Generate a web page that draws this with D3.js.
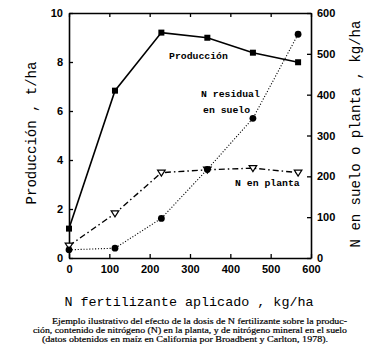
<!DOCTYPE html>
<html><head><meta charset="utf-8">
<script src="https://cdn.jsdelivr.net/npm/d3@7"></script>
<style>body{margin:0;background:#fff}svg{display:block}</style>
</head><body>
<script>
// ---- data ----
const nFert = [0, 114, 229, 343, 456, 568];            // kg/ha N applied
const produccion = [1.2, 6.83, 9.2, 8.99, 8.38, 7.99];  // t/ha (left axis)
const nPlanta = [30, 109, 209, 216, 220, 209];          // kg/ha (right axis)
const nSuelo = [20, 24, 97, 217, 342, 548];             // kg/ha (right axis)
const xTicks = [0, 100, 200, 300, 400, 500, 600];
const yLeftTicks = [0, 2, 4, 6, 8, 10];
const yRightTicks = [0, 100, 200, 300, 400, 500, 600];
const captionLines = [
  "Ejemplo ilustrativo del efecto de la dosis de N fertilizante sobre la produc-",
  "ción, contenido de nitrógeno (N) en la planta, y de nitrógeno mineral en el suelo",
  "(datos obtenidos en maíz en California por Broadbent y Carlton, 1978)."
];

const W = 379, H = 356;
const svg = d3.select("body").append("svg").attr("width", W).attr("height", H);

const x = d3.scaleLinear().domain([0, 600]).range([69, 311]);
const yL = d3.scaleLinear().domain([0, 10]).range([258, 13]);
const yR = d3.scaleLinear().domain([0, 600]).range([258, 13]);

function styleAxis(g) {
  g.select(".domain").attr("stroke", "#000").attr("stroke-width", 1.6);
  g.selectAll(".tick line").attr("stroke", "#000").attr("stroke-width", 1.3);
  g.selectAll("text").attr("font-family", "Liberation Sans, Arial, sans-serif")
    .attr("font-weight", "bold").attr("font-size", 11).attr("fill", "#000");
}

svg.append("g").attr("transform", "translate(0,258)")
  .call(d3.axisBottom(x).tickValues(xTicks).tickSizeInner(-4).tickSizeOuter(0).tickPadding(7).tickFormat(d3.format("d")))
  .call(styleAxis);
svg.append("g").attr("transform", "translate(0,13)")
  .call(d3.axisTop(x).tickValues(xTicks).tickSizeInner(-4).tickSizeOuter(0).tickFormat(""))
  .call(styleAxis);
svg.append("g").attr("transform", "translate(69,0)")
  .call(d3.axisLeft(yL).tickValues(yLeftTicks).tickSizeInner(-4).tickSizeOuter(0).tickPadding(6).tickFormat(d3.format("d")))
  .call(styleAxis);
svg.append("g").attr("transform", "translate(311,0)")
  .call(d3.axisRight(yR).tickValues(yRightTicks).tickSizeInner(-4).tickSizeOuter(0).tickPadding(6).tickFormat(d3.format("d")))
  .call(styleAxis);

// ---- series ----
const lineL = d3.line().x((d, i) => x(nFert[i])).y(d => yL(d));
const lineR = d3.line().x((d, i) => x(nFert[i])).y(d => yR(d));

svg.append("path").datum(nSuelo).attr("d", lineR).attr("fill", "none")
  .attr("stroke", "#000").attr("stroke-width", 1.1).attr("stroke-dasharray", "1.1,1.8");
svg.append("path").datum(nPlanta).attr("d", lineR).attr("fill", "none")
  .attr("stroke", "#000").attr("stroke-width", 1.4).attr("stroke-dasharray", "6,3,1.5,3");
svg.append("path").datum(produccion).attr("d", lineL).attr("fill", "none")
  .attr("stroke", "#000").attr("stroke-width", 1.6);

// triangles (open, pointing down)
svg.selectAll(".tri").data(nPlanta).enter().append("path")
  .attr("d", (d, i) => {
    const cx = x(nFert[i]), cy = yR(d);
    return `M${cx - 3.8},${cy - 2.6}L${cx + 3.8},${cy - 2.6}L${cx},${cy + 3.4}Z`;
  })
  .attr("fill", "#fff").attr("stroke", "#000").attr("stroke-width", 1.2);
// circles (filled)
svg.selectAll(".cir").data(nSuelo).enter().append("circle")
  .attr("cx", (d, i) => x(nFert[i])).attr("cy", d => yR(d)).attr("r", 3.4).attr("fill", "#000");
// squares (filled)
svg.selectAll(".sq").data(produccion).enter().append("rect")
  .attr("x", (d, i) => x(nFert[i]) - 3).attr("y", d => yL(d) - 3)
  .attr("width", 6).attr("height", 6).attr("fill", "#000");

// ---- labels ----
const mono = "Liberation Mono, DejaVu Sans Mono, monospace";
function lbl(t, xx, yy) {
  svg.append("text").attr("x", xx).attr("y", yy).text(t)
    .attr("font-family", mono).attr("font-weight", "bold").attr("font-size", 9.8).attr("fill", "#000");
}
lbl("Producción", 169, 58.5);
lbl("N residual", 201, 96.5);
lbl("en suelo", 203, 112.5);
lbl("N en planta", 235, 185.5);

svg.append("text").attr("x", 189).attr("y", 306).attr("text-anchor", "middle")
  .attr("font-family", mono).attr("font-size", 13.4).attr("fill", "#000")
  .text("N fertilizante aplicado , kg/ha");
svg.append("text").attr("transform", "translate(36,133) rotate(-90)").attr("text-anchor", "middle")
  .attr("font-family", mono).attr("font-size", 14).attr("fill", "#000")
  .text("Producción , t/ha");
svg.append("text").attr("transform", "translate(360,134) rotate(-90)").attr("text-anchor", "middle")
  .attr("font-family", mono).attr("font-size", 14).attr("fill", "#000")
  .text("N en suelo o planta , kg/ha");

// ---- caption ----
const capX = [52, 33, 42], capLen = [295, 314, 286], capY = [323.5, 332.5, 341.5];
captionLines.forEach((t, i) => {
  svg.append("text").attr("x", capX[i]).attr("y", capY[i]).text(t)
    .attr("font-family", "Liberation Serif, Times New Roman, serif").attr("font-size", 9.2)
    .attr("fill", "#000").attr("stroke", "#000").attr("stroke-width", 0.2)
    .attr("textLength", capLen[i]).attr("lengthAdjust", "spacingAndGlyphs");
});
</script>
</body></html>
